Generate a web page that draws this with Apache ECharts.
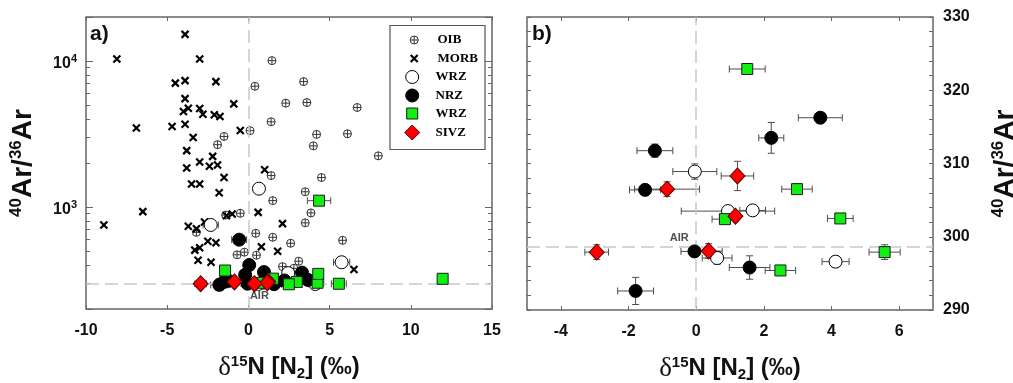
<!DOCTYPE html>
<html>
<head>
<meta charset="utf-8">
<script src="https://cdn.jsdelivr.net/npm/echarts@6/dist/echarts.min.js"></script>
<style>
  html, body { margin: 0; padding: 0; background: #ffffff; }
  #chart { width: 1013px; height: 383px; }
</style>
</head>
<body>
<div id="chart"></div>
<script>
// ---- Data: [δ15N (‰), 40Ar/36Ar] ----
const oib = [
  [1.45, 10050], [0.4, 6710], [3.4, 7220], [2.3, 5140], [3.6, 5190], [6.7, 4800],
  [1.4, 3830], [0.1, 3330], [4.2, 3140], [6.1, 3170], [4.0, 2620], [8.0, 2240],
  [1.4, 1640], [4.5, 1590], [3.5, 1270], [-1.5, 3040], [-1.9, 2670], [-0.5, 905],
  [1.5, 1105], [3.85, 910], [3.5, 778], [0.45, 660], [1.5, 620], [2.6, 564],
  [5.8, 591], [-0.25, 490], [0.5, 467], [3.1, 425], [-1.4, 880], [-3.2, 670],
  [-0.7, 470], [2.1, 390], [2.8, 380]
];
const morb = [
  [-8.1, 10300], [-3.9, 15200], [-3.0, 10300], [-4.5, 7050], [-3.9, 7330], [-2.0, 7220],
  [-3.9, 5520], [-3.7, 4750], [-4.0, 4500], [-3.0, 4720], [-2.8, 4320], [-2.1, 4280],
  [-1.75, 4160], [-0.9, 5080], [-6.9, 3470], [-4.7, 3560], [-3.9, 3690], [-0.5, 3340],
  [-3.4, 2990], [-3.8, 2430], [-2.2, 2220], [-3.0, 2030], [-3.8, 1850], [-2.4, 1900],
  [-1.9, 1940], [-1.5, 1590], [-3.5, 1435], [-3.0, 1435], [-1.8, 1250], [1.0, 1800],
  [0.6, 918], [2.1, 769], [0.8, 534], [1.8, 498], [-3.7, 738], [-3.2, 708],
  [-2.7, 789], [-1.35, 870], [-1.0, 895], [-8.9, 753], [-6.5, 929], [-2.5, 583],
  [-2.0, 568], [-3.3, 506], [-3.0, 525], [-3.1, 431], [-2.3, 418], [6.5, 373]
];

// Samples: [δ15N, 40Ar/36Ar, ±δ15N, ±40Ar/36Ar]
const wrzOpen = [
  [-0.04, 308.9, 0.65, 1.05], [0.94, 303.5, 1.38, 0], [1.67, 303.6, 0.38, 0],
  [0.62, 297.1, 0.44, 0.85], [4.12, 296.6, 0.4, 0]
];
const nrz = [
  [-1.22, 311.75, 0.53, 0.9], [3.67, 316.25, 0.65, 0], [2.22, 313.5, 0.37, 2.1],
  [-1.51, 306.4, 0.46, 0], [-0.05, 298.0, 0.4, 0], [1.58, 295.8, 0.6, 1.6],
  [-1.79, 292.6, 0.53, 1.85]
];
const wrzGreen = [
  [1.51, 322.9, 0.53, 0], [2.98, 306.5, 0.45, 0], [0.85, 302.4, 0.38, 0],
  [4.26, 302.5, 0.38, 0], [5.57, 297.9, 0.46, 1.0], [2.49, 295.4, 0.45, 0]
];
const sivz = [
  [1.22, 308.3, 0.48, 2.0], [-0.86, 306.5, 0.96, 1.0], [1.16, 302.8, 0, 0],
  [-2.94, 297.9, 0.35, 1.0], [0.37, 298.05, 0.4, 1.0]
];
// Samples with higher ratios (outside the 290-330 window)
const wrzOpenHigh = [[0.65, 1334, 0, 0], [-2.32, 753, 0.47, 0], [5.74, 418, 0.5, 0], [2.45, 352, 0, 0]];
const nrzHigh = [[-0.57, 597, 0.46, 0], [0.05, 400, 0.3, 0], [-0.2, 343, 0, 0], [0.96, 358, 0, 0], [3.3, 355, 0, 0]];
const wrzGreenHigh = [[4.35, 1104, 0.72, 0], [-1.44, 367, 0, 0], [11.96, 322, 0, 0], [4.3, 348, 0, 0]];

const airRatio = 298.6;
const logTicksMinor = [300, 400, 500, 600, 700, 800, 900, 2000, 3000, 4000, 5000, 6000, 7000, 8000, 9000];
const xTicksB = [-4, -2, 0, 2, 4, 6];

// ---- Styling ----
const SANS = "'Liberation Sans', Arial, sans-serif";
const SERIF = "'Liberation Serif', 'Times New Roman', serif";
const FRAME = '#666666';
const OIB_PATH = 'path://M10,0A10,10,0,1,1,10,20A10,10,0,1,1,10,0ZM10,0L10,20M0,10L20,10';
const X_PATH = 'path://M0,0L10,10M10,0L0,10';

const styles = {
  'OIB':  { symbol: OIB_PATH, size: 8, itemStyle: { color: 'none', borderColor: '#333', borderWidth: 1, opacity: 1 } },
  'MORB': { symbol: X_PATH, size: 7, itemStyle: { color: 'none', borderColor: '#000', borderWidth: 2.2, opacity: 1 } },
  'WRZ':  { symbol: 'circle', size: 13, itemStyle: { color: '#ffffff', borderColor: '#000', borderWidth: 1, opacity: 1 } },
  'NRZ':  { symbol: 'circle', size: 13, itemStyle: { color: '#000000', borderColor: '#000', borderWidth: 1, opacity: 1 } },
  'WRZ ': { symbol: 'rect', size: 11, itemStyle: { color: '#12ee12', borderColor: '#1a1a1a', borderWidth: 1, opacity: 1 } },
  'SIVZ': { symbol: 'diamond', size: [15, 16], itemStyle: { color: '#ff0000', borderColor: '#5a0000', borderWidth: 1, opacity: 1 } }
};

function scatter(name, data, xi, yi, z) {
  const s = styles[name];
  return {
    type: 'scatter', name, data, xAxisIndex: xi, yAxisIndex: yi,
    symbol: s.symbol, symbolSize: s.size, itemStyle: s.itemStyle,
    z, silent: true, clip: true
  };
}

function errorBarItem(params, api) {
  const x = api.value(0), y = api.value(1), ex = api.value(2), ey = api.value(3);
  const style = { stroke: '#4d4d4d', lineWidth: 1, fill: null };
  const cap = 3.5;
  const kids = [];
  const seg = (x1, y1, x2, y2) => kids.push({ type: 'line', shape: { x1, y1, x2, y2 }, style });
  if (ex > 0) {
    const a = api.coord([x - ex, y]), b = api.coord([x + ex, y]);
    seg(a[0], a[1], b[0], b[1]);
    seg(a[0], a[1] - cap, a[0], a[1] + cap);
    seg(b[0], b[1] - cap, b[0], b[1] + cap);
  }
  if (ey > 0) {
    const a = api.coord([x, y - ey]), b = api.coord([x, y + ey]);
    seg(a[0], a[1], b[0], b[1]);
    seg(a[0] - cap, a[1], a[0] + cap, a[1]);
    seg(b[0] - cap, b[1], b[0] + cap, b[1]);
  }
  return { type: 'group', children: kids };
}

function errorSeries(data, xi, yi) {
  return {
    type: 'custom', renderItem: errorBarItem, data, xAxisIndex: xi, yAxisIndex: yi,
    encode: { x: 0, y: 1 }, z: 2, silent: true, clip: true
  };
}

function airSeries(xi, yi, offset) {
  return {
    type: 'scatter', data: [[0, airRatio]], xAxisIndex: xi, yAxisIndex: yi,
    symbolSize: 0, z: 1, silent: true,
    label: { show: true, position: 'inside', formatter: 'AIR', offset,
      fontFamily: SANS, fontWeight: 'bold', fontSize: 11, color: '#222' },
    markLine: {
      silent: true, symbol: ['none', 'none'], label: { show: false },
      lineStyle: { type: [13, 6], color: '#c8c8c8', width: 1.5, opacity: 1 },
      data: [{ yAxis: airRatio }, { xAxis: 0 }]
    }
  };
}

const tickLabel = { fontFamily: SANS, fontWeight: 'bold', fontSize: 16, color: '#111' };
const tickInside = (len) => ({ show: true, inside: true, length: len, lineStyle: { color: FRAME, width: 1 } });
const noLine = { show: false, onZero: false };
const hidden = { show: false };
const nameRich = {
  b: { fontFamily: SANS, fontWeight: 'bold', fontSize: 24, color: '#111' },
  d: { fontFamily: SERIF, fontWeight: 'normal', fontSize: 27, color: '#111' },
  s: { fontFamily: SANS, fontWeight: 'bold', fontSize: 15, color: '#111', padding: [0, 0, 12, 0] },
  u: { fontFamily: SANS, fontWeight: 'bold', fontSize: 15, color: '#111', padding: [12, 0, 0, 0] }
};
const xName = '{d|δ}{s|15}{b|N [N}{u|2}{b|] (‰)}';
const yName = '{s|40}{b|Ar/}{s|36}{b|Ar}';
const yNameRich = {
  b: { fontFamily: SANS, fontWeight: 'bold', fontSize: 28, color: '#111' },
  s: { fontFamily: SANS, fontWeight: 'bold', fontSize: 17, color: '#111', padding: [0, 0, 14, 0] }
};

const lg10 = Math.log10;

const xAxes = [
  { type: 'value', gridIndex: 0, position: 'bottom', min: -10, max: 15, interval: 5,
    axisLine: noLine, splitLine: hidden, axisTick: tickInside(4),
    axisLabel: Object.assign({ margin: 14 }, tickLabel),
    name: xName, nameLocation: 'middle', nameGap: 45, nameTextStyle: { rich: nameRich } },
  { type: 'value', gridIndex: 0, position: 'top', min: -10, max: 15, interval: 5,
    axisLine: noLine, splitLine: hidden, axisTick: tickInside(4), axisLabel: hidden },
  { type: 'value', gridIndex: 1, position: 'bottom', min: -5, max: 7,
    axisLine: noLine, splitLine: hidden,
    axisTick: Object.assign(tickInside(4), { customValues: xTicksB }),
    axisLabel: Object.assign({ margin: 14, customValues: xTicksB }, tickLabel),
    name: xName, nameLocation: 'middle', nameGap: 45, nameTextStyle: { rich: nameRich } },
  { type: 'value', gridIndex: 1, position: 'top', min: -5, max: 7,
    axisLine: noLine, splitLine: hidden,
    axisTick: Object.assign(tickInside(4), { customValues: xTicksB }), axisLabel: hidden }
];

const yAxes = [
  // 0: left panel, logarithmic
  { type: 'log', logBase: 10, gridIndex: 0, position: 'left', min: 200, max: 20000,
    axisLine: noLine, splitLine: hidden, axisTick: tickInside(7),
    axisLabel: {
      margin: 9,
      formatter: (v) => {
        const e = Math.round(lg10(v));
        return Math.abs(lg10(v) - e) < 1e-6 && (e === 3 || e === 4) ? '{b|10}{s|' + e + '}' : '';
      },
      rich: {
        b: { fontFamily: SANS, fontWeight: 'bold', fontSize: 16, color: '#111', padding: [5, 0, 0, 0] },
        s: { fontFamily: SANS, fontWeight: 'bold', fontSize: 11, color: '#111', padding: [0, 0, 3, 0] }
      }
    },
    name: yName, nameLocation: 'middle', nameGap: 47, nameRotate: 90, nameTextStyle: { rich: yNameRich } },
  // 1: left panel, right edge major ticks
  { type: 'log', logBase: 10, gridIndex: 0, position: 'right', min: 200, max: 20000,
    axisLine: noLine, splitLine: hidden, axisTick: tickInside(7), axisLabel: hidden },
  // 2,3: left panel minor decade ticks
  { type: 'value', gridIndex: 0, position: 'left', min: lg10(200), max: lg10(20000),
    axisLine: noLine, splitLine: hidden, axisLabel: hidden,
    axisTick: Object.assign(tickInside(4), { customValues: logTicksMinor.map(lg10) }) },
  { type: 'value', gridIndex: 0, position: 'right', min: lg10(200), max: lg10(20000),
    axisLine: noLine, splitLine: hidden, axisLabel: hidden,
    axisTick: Object.assign(tickInside(4), { customValues: logTicksMinor.map(lg10) }) },
  // 4: right panel, labelled on the right
  { type: 'value', gridIndex: 1, position: 'right', min: 290, max: 330, interval: 2,
    axisLine: noLine, splitLine: hidden, axisTick: tickInside(4),
    axisLabel: Object.assign({ margin: 10, formatter: (v) => (v % 10 === 0 ? String(v) : '') }, tickLabel),
    name: yName, nameLocation: 'middle', nameGap: 57, nameRotate: 90, nameTextStyle: { rich: yNameRich } },
  // 5: right panel, left edge ticks
  { type: 'value', gridIndex: 1, position: 'left', min: 290, max: 330, interval: 2,
    axisLine: noLine, splitLine: hidden, axisTick: tickInside(4), axisLabel: hidden }
];

const leftSeries = [
  errorSeries([].concat(wrzOpen, wrzOpenHigh, nrz, nrzHigh, wrzGreen, wrzGreenHigh, sivz), 0, 0),
  airSeries(0, 0, [11, 12]),
  scatter('OIB', oib, 0, 0, 3),
  scatter('MORB', morb, 0, 0, 4),
  scatter('WRZ', wrzOpen.concat(wrzOpenHigh), 0, 0, 5),
  scatter('NRZ', nrz.concat(nrzHigh), 0, 0, 6),
  scatter('WRZ ', wrzGreen.concat(wrzGreenHigh), 0, 0, 7),
  scatter('SIVZ', sivz, 0, 0, 8)
];
const rightSeries = [
  errorSeries([].concat(wrzOpen, nrz, wrzGreen, sivz), 2, 4),
  airSeries(2, 4, [-17, -9]),
  scatter('WRZ', wrzOpen, 2, 4, 5),
  scatter('NRZ', nrz, 2, 4, 6),
  scatter('WRZ ', wrzGreen, 2, 4, 7),
  scatter('SIVZ', sivz, 2, 4, 8)
];

// Legend: one row per symbol so each icon keeps its own size
const legendRows = [
  { name: 'OIB', size: 8, bw: 1, y: 40 },
  { name: 'MORB', size: 7, bw: 2.2, y: 58.5 },
  { name: 'WRZ', size: 13, bw: 1, y: 76.5 },
  { name: 'NRZ', size: 13, bw: 1, y: 95 },
  { name: 'WRZ ', size: 11, bw: 1, y: 113.5 },
  { name: 'SIVZ', size: 15, bw: 1, y: 132 }
];
const legends = legendRows.map((r) => ({
  left: 411.7 - r.size / 2, top: r.y - Math.max(r.size, 13) / 2, padding: 0,
  orient: 'vertical', itemWidth: r.size, itemHeight: r.size, data: [r.name],
  selectedMode: false, itemStyle: { borderWidth: r.bw, opacity: 1 },
  textStyle: { fontFamily: SERIF, fontWeight: 'bold', fontSize: 13, color: '#000',
    padding: [0, 0, 0, 18.3 - r.size / 2] }
}));

const gridBase = { show: true, borderColor: FRAME, borderWidth: 1.5, backgroundColor: 'transparent',
  containLabel: false, outerBoundsMode: 'none' };

const chart = echarts.init(document.getElementById('chart'), null, { renderer: 'canvas' });
chart.setOption({
  animation: false,
  backgroundColor: '#ffffff',
  grid: [
    Object.assign({ left: 86, top: 17, width: 406, height: 292 }, gridBase),
    Object.assign({ left: 527, top: 17, width: 406, height: 293 }, gridBase)
  ],
  xAxis: xAxes,
  yAxis: yAxes,
  legend: legends,
  graphic: [
    { type: 'rect', left: 387.5, top: 23, z: 0, shape: { width: 95, height: 124 },
      style: { fill: 'none', stroke: '#555', lineWidth: 1.2 } },
    { type: 'text', left: 90, top: 24, style: { text: 'a)', font: "bold 21px 'Liberation Sans', Arial", fill: '#111' } },
    { type: 'text', left: 532, top: 24, style: { text: 'b)', font: "bold 21px 'Liberation Sans', Arial", fill: '#111' } }
  ],
  series: leftSeries.concat(rightSeries)
});
</script>
</body>
</html>
